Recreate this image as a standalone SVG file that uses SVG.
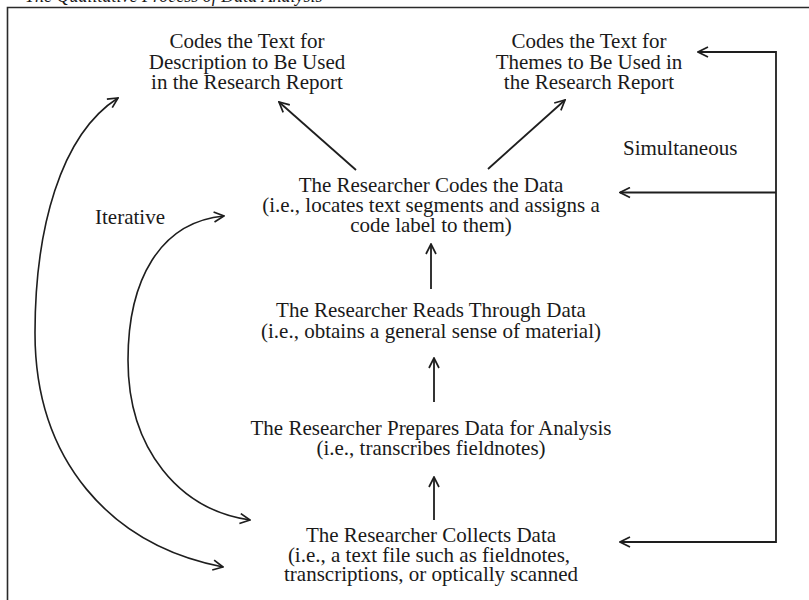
<svg xmlns="http://www.w3.org/2000/svg" width="809" height="600" viewBox="0 0 809 600">
  <style>
    .t { font-family: "Liberation Serif", "Times New Roman", serif; font-size: 21px; fill: #1a1a1a; text-anchor: middle; }
    .lbl { font-family: "Liberation Serif", "Times New Roman", serif; font-size: 21px; fill: #1a1a1a; }
    .title { font-family: "Liberation Serif", "Times New Roman", serif; font-size: 18px; font-style: italic; fill: #1a1a1a; }
    .frame { fill: none; stroke: #2a2a2a; stroke-width: 1.6; }
    .c { fill: none; stroke: #1e1e1e; stroke-width: 1.8; }
    .cv { fill: none; stroke: #1e1e1e; stroke-width: 1.6; }
  </style>
  <defs>
    <marker id="ah" viewBox="0 0 12 12" refX="11" refY="6" markerWidth="12" markerHeight="12" markerUnits="userSpaceOnUse" orient="auto-start-reverse">
      <path d="M1,1 L11,6 L1,11" fill="none" stroke="#1e1e1e" stroke-width="1.7"/>
    </marker>
  </defs>
  <rect width="809" height="600" fill="#ffffff"/>

  <text class="title" x="25" y="2">The Qualitative Process of Data Analysis</text>
  <path class="frame" d="M7.5,600 V7.5 H809"/>

  <g id="node-description">
    <text class="t" x="247" y="48">Codes the Text for</text>
    <text class="t" x="247" y="68.5">Description to Be Used</text>
    <text class="t" x="247" y="89">in the Research Report</text>
  </g>
  <g id="node-themes">
    <text class="t" x="589" y="48">Codes the Text for</text>
    <text class="t" x="589" y="68.5">Themes to Be Used in</text>
    <text class="t" x="589" y="89">the Research Report</text>
  </g>
  <g id="node-codes">
    <text class="t" x="431" y="192">The Researcher Codes the Data</text>
    <text class="t" x="431" y="212">(i.e., locates text segments and assigns a</text>
    <text class="t" x="431" y="232">code label to them)</text>
  </g>
  <g id="node-reads">
    <text class="t" x="431" y="317">The Researcher Reads Through Data</text>
    <text class="t" x="431" y="338">(i.e., obtains a general sense of material)</text>
  </g>
  <g id="node-prepares">
    <text class="t" x="431" y="435">The Researcher Prepares Data for Analysis</text>
    <text class="t" x="431" y="455">(i.e., transcribes fieldnotes)</text>
  </g>
  <g id="node-collects">
    <text class="t" x="431" y="542">The Researcher Collects Data</text>
    <text class="t" x="429" y="562">(i.e., a text file such as fieldnotes,</text>
    <text class="t" x="431" y="581">transcriptions, or optically scanned</text>
  </g>
  <g id="label-iterative">
    <text class="lbl" x="95" y="224">Iterative</text>
  </g>
  <g id="label-simultaneous">
    <text class="lbl" x="623" y="155">Simultaneous</text>
  </g>

  <g id="connectors">
    <path class="c" d="M356,170 L279,102" marker-end="url(#ah)"/>
    <path class="c" d="M488,169 L565,100" marker-end="url(#ah)"/>
    <path class="c" d="M431,289 L431,244" marker-end="url(#ah)"/>
    <path class="c" d="M434,402 L434,358" marker-end="url(#ah)"/>
    <path class="c" d="M434,520 L434,477" marker-end="url(#ah)"/>
    <path class="c" d="M698,52 H776 V542 H620" marker-start="url(#ah)" marker-end="url(#ah)"/>
    <path class="c" d="M776,192.5 H620" marker-end="url(#ah)"/>
    <path class="cv" d="M118,98 C60,135 35,230 35,333 C35,460 110,545 223,567" marker-start="url(#ah)" marker-end="url(#ah)"/>
    <path class="cv" d="M224,216 C160,222 128,280 128,360 C128,450 180,510 250,520" marker-start="url(#ah)" marker-end="url(#ah)"/>
  </g>
</svg>
